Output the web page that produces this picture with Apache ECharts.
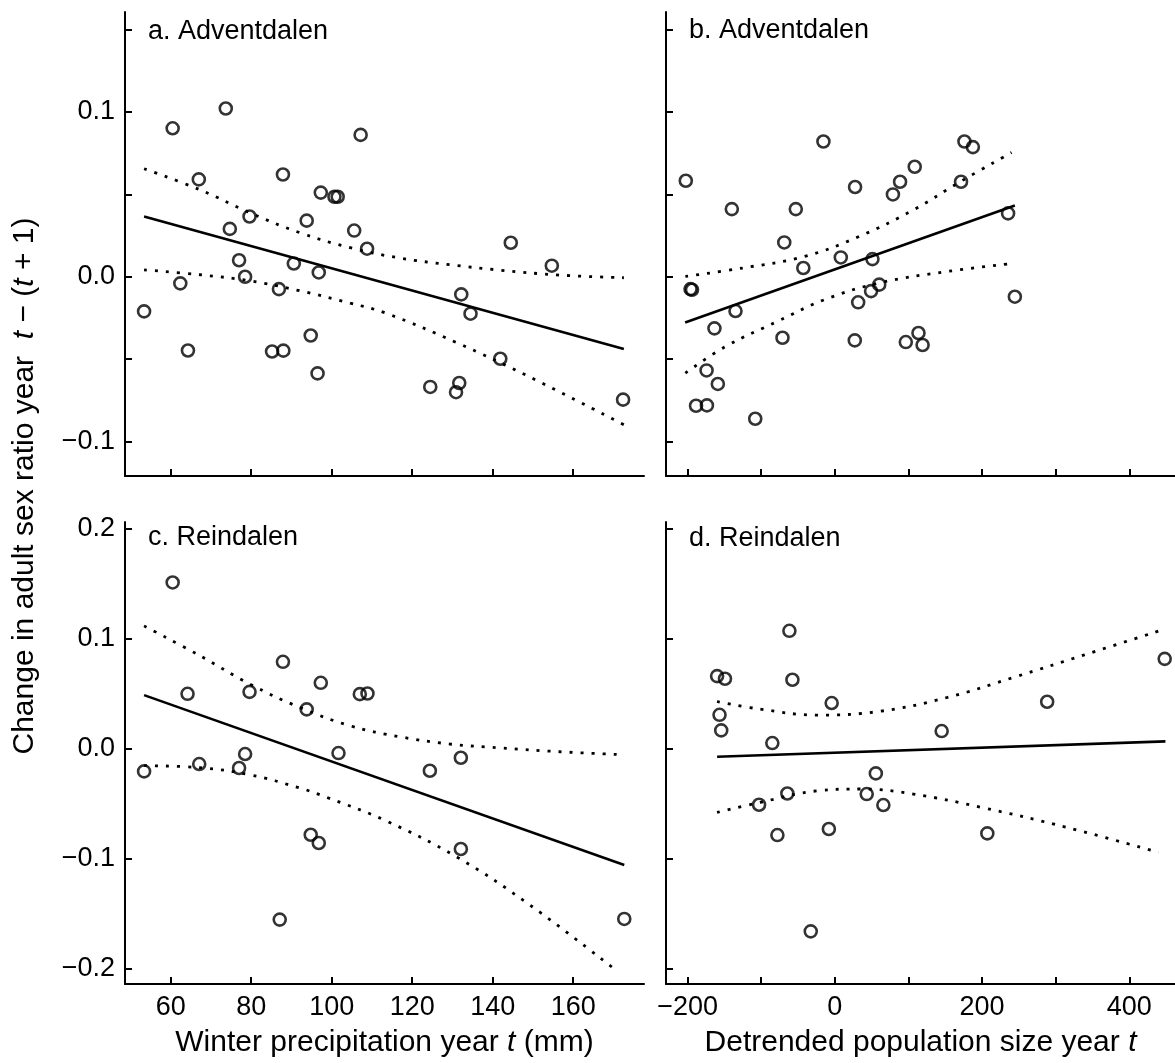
<!DOCTYPE html>
<html>
<head>
<meta charset="utf-8">
<script src="https://cdn.jsdelivr.net/npm/echarts@6/dist/echarts.min.js"></script>
<style>html,body{margin:0;padding:0;background:#fff}#c{width:1175px;height:1063px}</style>
</head>
<body>
<div id="c"></div>
<script>
// ---- data ----
const pointsA = [[60.5,0.090],[73.7,0.102],[107.2,0.086],[67.0,0.059],[87.9,0.062],[97.3,0.051],[100.7,0.0485],[101.5,0.0485],[79.6,0.0365],[93.8,0.034],[74.7,0.029],[105.6,0.028],[108.8,0.017],[77.0,0.010],[90.6,0.008],[96.8,0.0026],[78.5,0.0],[62.4,-0.004],[86.9,-0.0075],[53.4,-0.021],[64.3,-0.0447],[85.2,-0.0453],[88.0,-0.0448],[94.8,-0.0356],[96.5,-0.0586],[132.2,-0.0107],[134.5,-0.0224],[141.9,-0.0497],[124.5,-0.0668],[131.7,-0.0644],[130.9,-0.0700],[172.4,-0.0745],[144.5,0.0206],[154.7,0.0067]];
const fitA = [[53.4,0.0365],[172.6,-0.0438]];
const upperA = [[53.4,0.0655],[67.3,0.0527],[79.7,0.0388],[92.1,0.0267],[104.6,0.0176],[117.0,0.0113],[129.4,0.0073],[141.8,0.004],[156.7,0.001],[172.6,-0.0006]];
const lowerA = [[53.4,0.0042],[67.3,0.0012],[79.7,-0.0025],[92.1,-0.0085],[104.6,-0.016],[113.4,-0.022],[131.1,-0.040],[148.9,-0.0604],[172.6,-0.0897]];

const pointsB = [[-202.4,0.0582],[-139.9,0.041],[-53.0,0.041],[-15.5,0.082],[27.5,0.0544],[78.9,0.0499],[88.6,0.0576],[108.5,0.0667],[176.0,0.082],[187.5,0.0786],[171.4,0.0576],[235.3,0.0384],[-68.7,0.0208],[-42.8,0.0053],[8.1,0.0117],[51.1,0.0107],[-196.0,-0.0075],[-194.0,-0.0079],[49.2,-0.0087],[60.3,-0.0048],[244.5,-0.0121],[31.7,-0.0155],[-134.9,-0.0208],[-163.5,-0.0313],[-71.1,-0.037],[27.1,-0.0386],[96.4,-0.0396],[113.6,-0.0341],[119.2,-0.0414],[-174.2,-0.0568],[-158.9,-0.065],[-188.5,-0.0782],[-173.7,-0.078],[-108.1,-0.0861]];
const fitB = [[-203.3,-0.0277],[244.5,0.0432]];
const upperB = [[-203,0.0002],[-125,0.0053],[-41,0.0123],[33,0.0244],[107,0.0406],[171,0.0578],[240,0.0753]];
const lowerB = [[-203,-0.0584],[-148,-0.0422],[-78,-0.0271],[-14,-0.0139],[60,-0.0038],[153,0.0032],[238.5,0.0079]];

const pointsC = [[60.5,0.151],[64.2,0.0497],[79.6,0.0515],[87.9,0.0788],[97.3,0.0597],[107.0,0.0494],[108.9,0.050],[93.8,0.0355],[101.7,-0.0042],[78.5,-0.0051],[53.4,-0.0209],[67.1,-0.0142],[77.0,-0.0178],[94.8,-0.0785],[96.8,-0.086],[87.1,-0.1557],[132.1,-0.0915],[172.7,-0.1551],[124.4,-0.0203],[132.1,-0.0085]];
const fitC = [[53.4,0.0485],[172.7,-0.106]];
const upperC = [[53.4,0.1115],[67.3,0.0843],[79.7,0.0585],[92.1,0.0373],[104.6,0.0206],[117.0,0.0106],[129.4,0.004],[141.8,0.0005],[156.7,-0.003],[172.6,-0.0057]];
const lowerC = [[53.4,-0.0157],[67.3,-0.0175],[79.7,-0.024],[92.1,-0.036],[98.8,-0.0445],[113.4,-0.0657],[131.2,-0.099],[148.9,-0.1415],[170.7,-0.202]];

const pointsD = [[-61.7,0.107],[-159.9,0.0658],[-149.2,0.0634],[-57.6,0.0625],[-4.3,0.0413],[-156.6,0.0306],[-154.3,0.0164],[-84.9,0.0049],[145.1,0.0158],[288.4,0.0425],[448.0,0.0815],[55.7,-0.0227],[-64.5,-0.041],[43.3,-0.0415],[-102.9,-0.0512],[65.9,-0.0515],[-78.0,-0.0788],[-8.1,-0.0733],[207.1,-0.0773],[-32.7,-0.1664]];
const fitD = [[-159.9,-0.0075],[449,0.0064]];
const upperD = [[-160,0.0427],[-101.6,0.0358],[-22.9,0.0303],[60.3,0.0337],[153,0.0464],[245.4,0.0652],[337.9,0.0849],[440.7,0.107]];
const lowerD = [[-160,-0.0582],[-101.6,-0.0491],[-22.9,-0.0385],[37.3,-0.0369],[106.7,-0.0415],[199.2,-0.0536],[314.9,-0.0718],[439.7,-0.0945]];

// ticks and labels
const precipTicks = [60,80,100,120,140,160];
const popTicks = [-200,-100,0,100,200,300,400];
const popLabels = [-200,0,200,400];
const yTicksTop = [-0.1,-0.05,0,0.05,0.1,0.15];
const yLabelsTop = [-0.1,0,0.1];
const yTicksBottom = [-0.2,-0.1,0,0.1,0.2];
const panelTitles = ['a. Adventdalen','b. Adventdalen','c. Reindalen','d. Reindalen'];
const xTitleLeft = 'Winter precipitation year {i|t} (mm)';
const xTitleRight = 'Detrended population size year {i|t}';
const yTitle = 'Change in adult sex ratio year  {i|t} \u2212 ({i|t} + 1)';

// ---- chart ----
const FONT = 'Liberation Sans, Arial, Helvetica, sans-serif';
const minus = s => s.replace('-', '\u2212');
const fmtY = v => minus(Number(v).toFixed(1));
const fmtX = v => minus(String(Math.round(v)));

const grids = [
  {left:125, top:12, width:519, height:464},
  {left:666, top:12, width:509, height:464},
  {left:125, top:522, width:519, height:462},
  {left:666, top:522, width:509, height:462}
];
const xr = [[48.66,177.6],[-229.3,462],[48.66,177.6],[-229.3,462]];
const yr = [[-0.1208,0.1605],[-0.1208,0.1605],[-0.2143,0.206],[-0.2143,0.206]];

function axisBase(){
  return {
    type:'value', splitLine:{show:false},
    axisLine:{show:true, onZero:false, lineStyle:{color:'#000', width:2}},
    axisTick:{show:true, inside:true, length:7, lineStyle:{color:'#000', width:2}},
    axisLabel:{color:'#000', fontSize:27, fontFamily:FONT, margin:10}
  };
}
const xAxes = [0,1,2,3].map(i=>{
  const a = axisBase();
  a.gridIndex = i; a.min = xr[i][0]; a.max = xr[i][1];
  const left = (i%2===0);
  a.axisTick.customValues = left ? precipTicks : popTicks;
  a.axisLabel.show = i>=2;
  a.axisLabel.customValues = left ? precipTicks : popLabels;
  a.axisLabel.formatter = fmtX;
  if (i>=2){
    a.name = left ? xTitleLeft : xTitleRight;
    a.nameLocation = 'middle';
    a.nameGap = 44;
    a.nameTextStyle = {color:'#000', fontSize:30, fontFamily:FONT,
      rich:{i:{fontStyle:'italic', fontSize:30, fontFamily:FONT, color:'#000'}}};
  }
  return a;
});
const yAxes = [0,1,2,3].map(i=>{
  const a = axisBase();
  a.gridIndex = i; a.min = yr[i][0]; a.max = yr[i][1];
  const top = i<2;
  a.axisTick.customValues = top ? yTicksTop : yTicksBottom;
  a.axisLabel.show = (i%2===0);
  a.axisLabel.customValues = top ? yLabelsTop : yTicksBottom;
  a.axisLabel.formatter = fmtY;
  return a;
});

const sets = [
  [pointsA, fitA, upperA, lowerA],
  [pointsB, fitB, upperB, lowerB],
  [pointsC, fitC, upperC, lowerC],
  [pointsD, fitD, upperD, lowerD]
];
const series = [];
sets.forEach((s,i)=>{
  const common = {xAxisIndex:i, yAxisIndex:i, silent:true, animation:false};
  series.push(Object.assign({type:'line', data:s[2], symbol:'none', smooth:0.4,
    lineStyle:{color:'#000', width:2.8, type:[3,8]}}, common));
  series.push(Object.assign({type:'line', data:s[3], symbol:'none', smooth:0.4,
    lineStyle:{color:'#000', width:2.8, type:[3,8]}}, common));
  series.push(Object.assign({type:'line', data:s[1], symbol:'none',
    lineStyle:{color:'#000', width:2.6}}, common));
  series.push(Object.assign({type:'scatter', data:s[0], symbol:'circle', symbolSize:12,
    itemStyle:{color:'rgba(255,255,255,0)', borderColor:'#000', borderWidth:2.6}}, common));
});

const labelPos = [[148,32],[689,31],[148,538],[689,539]];
const graphic = panelTitles.map((t,i)=>({
  type:'text', x:labelPos[i][0], y:labelPos[i][1], silent:true,
  style:{text:t, fill:'#000', fontSize:27, fontFamily:FONT, align:'left', verticalAlign:'middle'}
}));
graphic.push({
  type:'text', x:25, y:486, rotation:Math.PI/2, silent:true,
  style:{text:yTitle, fill:'#000', fontSize:30, fontFamily:FONT, align:'center', verticalAlign:'middle',
    rich:{i:{fontStyle:'italic', fontSize:30, fontFamily:FONT, fill:'#000'}}}
});

const chart = echarts.init(document.getElementById('c'), null, {renderer:'canvas'});
chart.setOption({
  animation:false, backgroundColor:'#fff',
  grid:grids, xAxis:xAxes, yAxis:yAxes, series:series, graphic:graphic
});
</script>
</body>
</html>
